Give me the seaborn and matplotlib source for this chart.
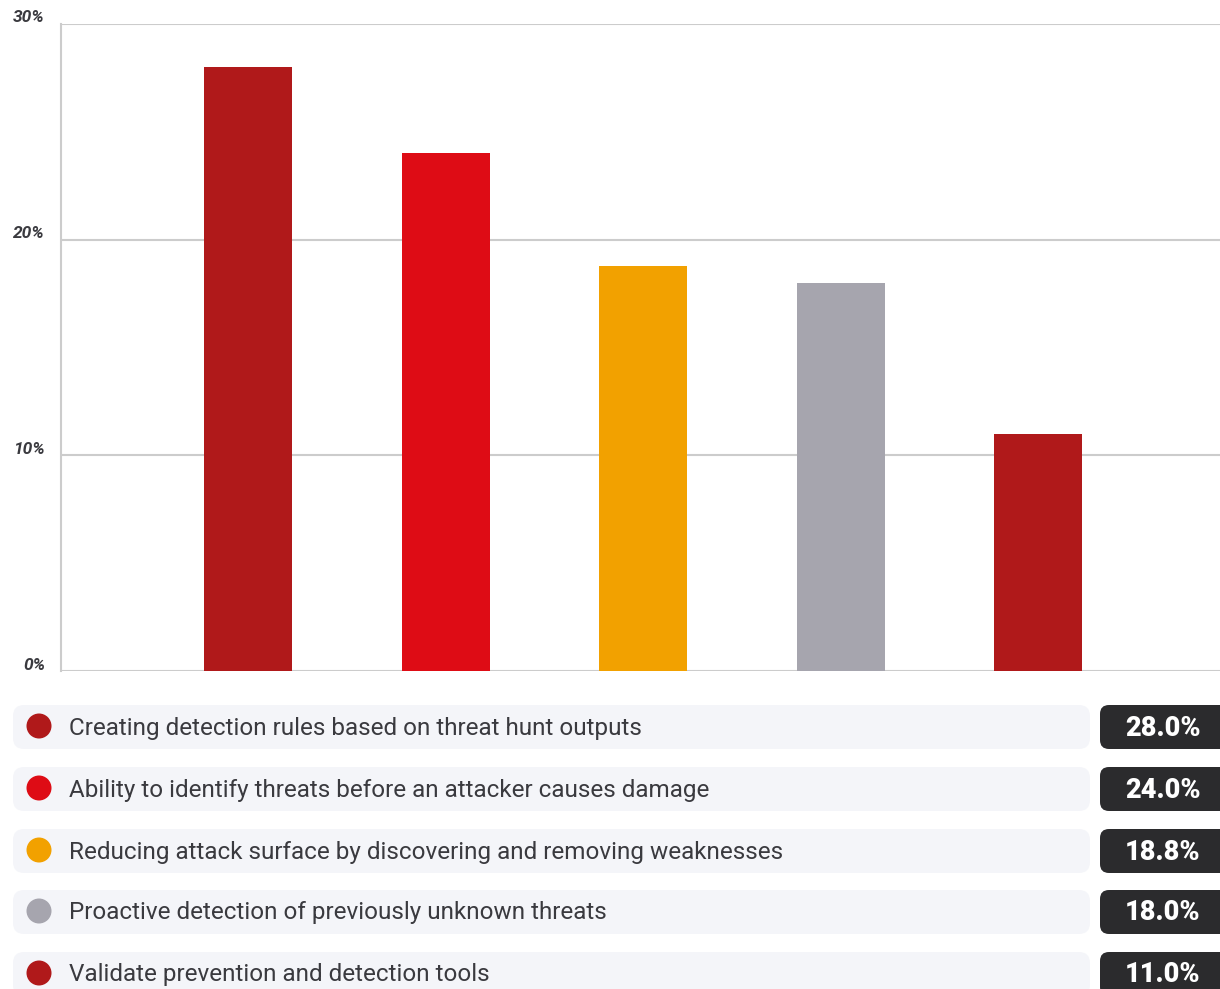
import matplotlib
matplotlib.use("Agg")
import matplotlib.pyplot as plt
from matplotlib.patches import FancyBboxPatch, Circle
from matplotlib.transforms import offset_copy
import seaborn as sns
import pandas as pd

# Survey results: benefits of threat hunting
categories = [
    "Creating detection rules based on threat hunt outputs",
    "Ability to identify threats before an attacker causes damage",
    "Reducing attack surface by discovering and removing weaknesses",
    "Proactive detection of previously unknown threats",
    "Validate prevention and detection tools",
]
values = [28.0, 24.0, 18.8, 18.0, 11.0]
colors = ["#B0191A", "#DE0C15", "#F2A100", "#A6A5AE", "#B0191A"]
y_ticks = [0, 10, 20, 30]
y_tick_labels = ["0%", "10%", "20%", "30%"]

W, H = 1220, 989
sns.set_theme(style="white")
plt.rcParams["font.family"] = ["Roboto", "DejaVu Sans"]

fig = plt.figure(figsize=(W / 100, H / 100), dpi=100)
fig.patch.set_facecolor("white")

# Bar chart area
ax = fig.add_axes([61 / W, (H - 671) / H, (W - 61) / W, (671 - 24) / H])
df = pd.DataFrame({"category": categories, "value": values})
sns.barplot(data=df, x="category", y="value", hue="category",
            palette=colors, width=0.446, legend=False, ax=ax,
            saturation=1, linewidth=0)
ax.set_xlim(-0.947, 4.92)
ax.set_ylim(0, 30)
ax.set_xlabel("")
ax.set_ylabel("")
ax.set_xticks([])
ax.set_yticks(y_ticks)
ax.set_yticklabels([])
ax.tick_params(axis="y", length=4, width=1.5, color="#cccccc", pad=0)
ax.yaxis.grid(True, color="#cccccc", linewidth=1.5)
ax.set_axisbelow(True)
for side in ["top", "right", "bottom"]:
    ax.spines[side].set_visible(False)
ax.spines["left"].set_color("#cccccc")
ax.spines["left"].set_linewidth(1.5)

# Tick labels sit just above their gridlines
lbl_tr = offset_copy(ax.get_yaxis_transform(), fig=fig, x=-16, y=6, units="dots")
for v, t in zip(y_ticks, y_tick_labels):
    ax.text(0, v, t, transform=lbl_tr, ha="right", va="center",
            fontsize=12.5, fontstyle="italic", fontweight="semibold",
            color="#3a3a3f", clip_on=False)

# Legend rows with value badges, laid out in pixel units
lax = fig.add_axes([0, 0, 1, 1], zorder=-1)
lax.set_xlim(0, W)
lax.set_ylim(H, 0)
lax.axis("off")

row_centers = [727, 789, 851, 912, 974]
row_h = 44
for cy, label, val, col in zip(row_centers, categories, values, colors):
    lax.add_patch(FancyBboxPatch((13, cy - row_h / 2), 1077, row_h,
                                 boxstyle="round,pad=0,rounding_size=11",
                                 facecolor="#F4F5F9", edgecolor="none"))
    lax.add_patch(Circle((39, cy - 1), 12.5, facecolor=col, edgecolor="none"))
    lax.text(69, cy + 1, label, fontsize=17.5, color="#3a3a3f",
             va="center", ha="left")
    lax.add_patch(FancyBboxPatch((1100, cy - row_h / 2), 140, row_h,
                                 boxstyle="round,pad=0,rounding_size=9",
                                 facecolor="#2B2B2D", edgecolor="none"))
    lax.text(1163, cy + 1, f"{val:.1f}%", fontsize=19.5, fontweight="heavy",
             color="white", va="center", ha="center")

fig.savefig("out.png", dpi=100, facecolor="white")
